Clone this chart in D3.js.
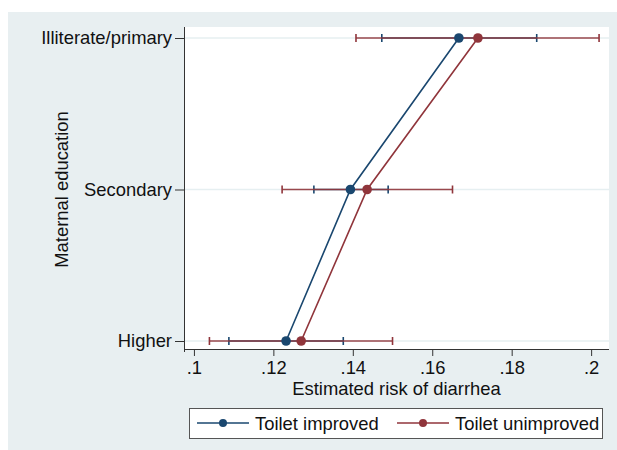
<!DOCTYPE html>
<html>
<head>
<meta charset="utf-8">
<script src="https://cdn.jsdelivr.net/npm/d3@7"></script>
<style>
  html, body { margin: 0; padding: 0; background: #ffffff; }
  svg { display: block; font-family: "Liberation Sans", Arial, sans-serif; }
</style>
</head>
<body>
<svg id="chart" width="617" height="450"></svg>
<script>
// Categories (top to bottom) and estimated risks with 95% CIs
const categories = ["Illiterate/primary", "Secondary", "Higher"];
const improvedEst = [0.1667, 0.1394, 0.1232];
const improvedLo  = [0.1473, 0.1302, 0.1088];
const improvedHi  = [0.1863, 0.1489, 0.1376];
const unimprovedEst = [0.1715, 0.1436, 0.1270];
const unimprovedLo  = [0.1408, 0.1222, 0.1039];
const unimprovedHi  = [0.2020, 0.1651, 0.1500];
const xTicks = [0.1, 0.12, 0.14, 0.16, 0.18, 0.2];
const xTickLabels = [".1", ".12", ".14", ".16", ".18", ".2"];
const seriesNames = ["Toilet improved", "Toilet unimproved"];

const colors = ["#1a476f", "#90353b"];
const fontSize = 18.4;
const svg = d3.select("#chart");

// graph region background
svg.append("rect").attr("x", 8).attr("y", 12).attr("width", 609).attr("height", 438)
  .attr("fill", "#e8eff1");

const plot = { left: 184, right: 609, top: 27, bottom: 349 };
svg.append("rect").attr("x", plot.left).attr("y", plot.top)
  .attr("width", plot.right - plot.left).attr("height", plot.bottom - plot.top)
  .attr("fill", "#ffffff");

const x = d3.scaleLinear().domain([0.0975, 0.2045]).range([plot.left, plot.right]);
const y = d3.scalePoint().domain(categories).range([38, 341]);

// horizontal gridlines at categories
svg.append("g").selectAll("line").data(categories).join("line")
  .attr("x1", plot.left).attr("x2", plot.right)
  .attr("y1", d => y(d)).attr("y2", d => y(d))
  .attr("stroke", "#e6eff1").attr("stroke-width", 1.5);

// x axis
const xAxis = d3.axisBottom(x).tickValues(xTicks)
  .tickFormat((d, i) => xTickLabels[i]).tickSize(7).tickPadding(5);
const gx = svg.append("g").attr("transform", `translate(0,${plot.bottom})`).call(xAxis);
gx.select(".domain").attr("d", `M${plot.left},0.5H${plot.right}`).attr("stroke", "#333");
gx.selectAll(".tick line").attr("stroke", "#333");
gx.selectAll("text").attr("font-size", fontSize).attr("fill", "#111")
  .attr("font-family", "Liberation Sans, Arial, sans-serif");

// y axis
const yAxis = d3.axisLeft(y).tickSize(9).tickPadding(3);
const gy = svg.append("g").attr("transform", `translate(${plot.left},0)`).call(yAxis);
gy.select(".domain").attr("d", `M0.5,${plot.top}V${plot.bottom + 3}`).attr("stroke", "#333");
gy.selectAll(".tick line").attr("stroke", "#333");
gy.selectAll("text").attr("font-size", fontSize).attr("fill", "#111")
  .attr("font-family", "Liberation Sans, Arial, sans-serif");

// axis titles
svg.append("text").attr("x", (plot.left + plot.right) / 2).attr("y", 395)
  .attr("text-anchor", "middle").attr("font-size", fontSize).attr("fill", "#111")
  .text("Estimated risk of diarrhea");
svg.append("text").attr("transform", `translate(68,${(38 + 341) / 2}) rotate(-90)`)
  .attr("text-anchor", "middle").attr("font-size", fontSize).attr("fill", "#111")
  .text("Maternal education");

// series
const series = [
  { est: improvedEst, lo: improvedLo, hi: improvedHi, color: colors[0] },
  { est: unimprovedEst, lo: unimprovedLo, hi: unimprovedHi, color: colors[1] }
];

const capH = 4;
series.forEach(s => {
  const g = svg.append("g");
  const rows = categories.map((c, i) => ({ c, est: s.est[i], lo: s.lo[i], hi: s.hi[i] }));
  g.selectAll("line.ci").data(rows).join("line").attr("class", "ci")
    .attr("x1", d => x(d.lo)).attr("x2", d => x(d.hi))
    .attr("y1", d => y(d.c)).attr("y2", d => y(d.c))
    .attr("stroke", s.color).attr("stroke-width", 1.6).attr("stroke-opacity", 0.9);
  ["lo", "hi"].forEach(k => {
    g.selectAll("line.cap-" + k).data(rows).join("line").attr("class", "cap-" + k)
      .attr("x1", d => x(d[k])).attr("x2", d => x(d[k]))
      .attr("y1", d => y(d.c) - capH).attr("y2", d => y(d.c) + capH)
      .attr("stroke", s.color).attr("stroke-width", 1.6);
  });
});

// connecting lines and markers on top
series.forEach(s => {
  const rows = categories.map((c, i) => ({ c, est: s.est[i] }));
  svg.append("path").datum(rows)
    .attr("d", d3.line().x(d => x(d.est)).y(d => y(d.c)))
    .attr("fill", "none").attr("stroke", s.color).attr("stroke-width", 1.6);
  svg.append("g").selectAll("circle").data(rows).join("circle")
    .attr("cx", d => x(d.est)).attr("cy", d => y(d.c)).attr("r", 4.8)
    .attr("fill", s.color);
});

// legend
const legend = svg.append("g");
legend.append("rect").attr("x", 189.5).attr("y", 408.5).attr("width", 413).attr("height", 30)
  .attr("fill", "#ffffff").attr("stroke", "#555").attr("stroke-width", 1);
const legX = [197, 397];
seriesNames.forEach((name, i) => {
  const lx = legX[i], ly = 423;
  legend.append("line").attr("x1", lx).attr("x2", lx + 52).attr("y1", ly).attr("y2", ly)
    .attr("stroke", colors[i]).attr("stroke-width", 1.6);
  legend.append("circle").attr("cx", lx + 26).attr("cy", ly).attr("r", 4).attr("fill", colors[i]);
  legend.append("text").attr("x", lx + 58).attr("y", ly + 6.5)
    .attr("font-size", fontSize).attr("fill", "#111").text(name);
});
</script>
</body>
</html>
